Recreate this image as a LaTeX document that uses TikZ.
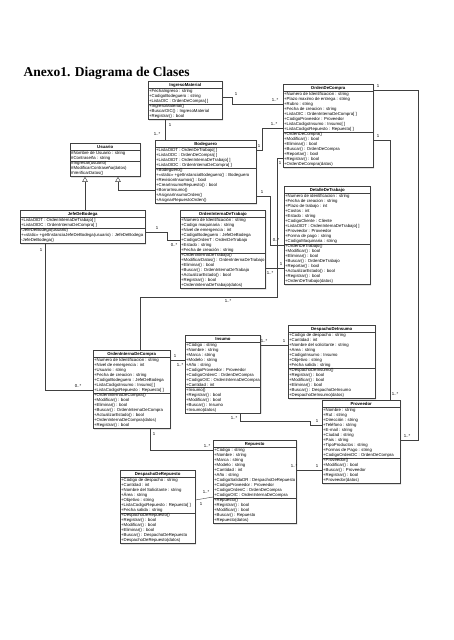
\documentclass[tikz,border=0pt]{standalone}
\usepackage{fontspec}
\setmainfont{Liberation Sans}
\newfontfamily\titlefont{Liberation Serif}
\usetikzlibrary{shapes.multipart,arrows.meta,shadows}

\begin{document}
\begin{tikzpicture}[x=1pt,y=-1pt,
  clase/.style={draw=black!75, line width=0.4pt, fill=white, rectangle split, rectangle split parts=3,
    rectangle split part align={center,left,left}, align=left, anchor=north west,
    drop shadow={shadow xshift=0.9pt, shadow yshift=-0.9pt, fill=black!35},
    inner xsep=1pt, inner ysep=0.7pt, font=\fontsize{4.3}{5}\selectfont},
  asoc/.style={draw=black!75, line width=0.4pt},
  hereda/.style={asoc, -{Triangle[open,length=5pt,width=5.5pt]}},
  mult/.style={font=\fontsize{4.3}{5}\selectfont, inner sep=0.3pt}]
  \fill[white] (0,0) rectangle (453,640);
  \node[anchor=base west, font=\titlefont\bfseries\fontsize{13.5}{15}\selectfont] (titulo) at (20,76) {Anexo1. Diagrama de Clases};

  % IngresoMaterial
  \node[clase, minimum width=74pt] (im) at (148,81) {\textbf{IngresoMaterial}\rule[-1pt]{0pt}{5pt}
    \nodepart{second}+FechaIngreso : string\\+CodigoBodeguero : string\\+ListaOIC : OrdenDeCompra[ ]
    \nodepart{third}+IngresoMaterial()\\+BuscarOIC() : IngresoMaterial\\+Registrar() : bool};

  % OrdenDeCompra
  \node[clase, minimum width=90pt] (odc) at (283,84) {\textbf{OrdenDeCompra}\rule[-1pt]{0pt}{5pt}
    \nodepart{second}+Numero de Identificacion : string\\+Plazo maximo de entrega : string\\+Rubro : string\\
    +Fecha de creacion : string\\+ListaOIC : OrdenInternaDeCompra[ ]\\+CodigoProveedor : Proveedor\\
    +ListaCodigoInsumo : Insumo[ ]\\+ListaCodigoRepuesto : Repuesto[ ]
    \nodepart{third}+OrdenDeCompra()\\+Modificar() : bool\\+Eliminar() : bool\\+Buscar() : OrdenDeCompra\\
    +Reportar() : bool\\+Registrar() : bool\\+OrdenDeCompra(datos)};

  % Usuario
  \node[clase, minimum width=70pt] (usu) at (70,143) {\textbf{Usuario}\rule[-1pt]{0pt}{5pt}
    \nodepart{second}\#Nombre de Usuario : string\\\#Contraseña : string
    \nodepart{third}\#Ingresar(usuario)\\\#ModificarContraseña(datos)\\\#VerificarDatos()};

  % Bodeguero
  \node[clase, minimum width=101pt] (bod) at (155,140) {\textbf{Bodeguero}\rule[-1pt]{0pt}{5pt}
    \nodepart{second}+ListaOIDT : OrdenDeTrabajo[ ]\\+ListaODC : OrdenDeCompra[ ]\\
    +ListaOIDT : OrdenInternaDeTrabajo[ ]\\+ListaOIDC : OrdenInternaDeCompra[ ]
    \nodepart{third}+Bodeguero()\\+<<static>> +getInstanciaBodeguero() : Bodeguero\\+RevisionInsumos() : bool\\
    +CrearInsumoRepuesto() : bool\\+BorrarInsumo()\\+AsignarInsumoOrden()\\+AsignarRepuestoOrden()};

  % JefeDeBodega
  \node[clase, minimum width=125pt] (jdb) at (20,210) {\textbf{JefeDeBodega}\rule[-1pt]{0pt}{5pt}
    \nodepart{second}+ListaOIDT : OrdenInternaDeTrabajo[ ]\\+ListaOIDC : OrdenInternaDeCompra[ ]
    \nodepart{third}-JefeDeBodega(usuario)\\+<<static>> +getInstanciaJefeDeBodega(usuario) : JefeDeBodega\\-JefeDeBodega()};

  % DetalleDeTrabajo
  \node[clase, minimum width=86pt] (ddt) at (284,186) {\textbf{DetalleDeTrabajo}\rule[-1pt]{0pt}{5pt}
    \nodepart{second}+Numero de identificacion : string\\+Fecha de creacion : string\\+Plazo de trabajo : int\\
    +Costos : int\\+Estado : string\\+CodigoCliente : Cliente\\+ListaOIDT : OrdenInternaDeTrabajo[ ]\\
    +Proveedor : Proveedor\\+Forma de pago : string\\+CodigoMaquinaria : string
    \nodepart{third}+OrdenDeTrabajo()\\+Modificar() : bool\\+Eliminar() : bool\\+Buscar() : OrdenDeTrabajo\\
    +Reportar() : bool\\+ActualizarEstado() : bool\\+Registrar() : bool\\+OrdenDeTrabajo(datos)};

  % OrdenInternaDeTrabajo
  \node[clase, minimum width=84pt] (oit) at (180,210) {\textbf{OrdenInternaDeTrabajo}\rule[-1pt]{0pt}{5pt}
    \nodepart{second}+Número de Identificación : string\\+Codigo maquinaria : string\\+Nivel de emergencia : int\\
    +CodigoBodeguero : JefeDeBodega\\+CodigoOrdenT : OrdenDeTrabajo\\+Estado : string\\+Fecha de creación : string
    \nodepart{third}+OrdenInternaDeTrabajo()\\+ModificarDatos() : OrdenInternaDeTrabajo\\+Eliminar() : bool\\
    +Buscar() : OrdenInternaDeTrabajo\\+ActualizarEstado() : bool\\+Registrar() : bool\\+OrdenInternaDeTrabajo(datos)};

  % Insumo
  \node[clase, minimum width=72pt] (ins) at (185,335) {\textbf{Insumo}\rule[-1pt]{0pt}{5pt}
    \nodepart{second}+Código : string\\+Nombre : string\\+Marca : string\\+Modelo : string\\+Año : string\\
    +CodigoProveedor : Proveedor\\+CodigoOrdenC : OrdenDeCompra\\+CodigoOIC : OrdenInternaDeCompra\\+Cantidad : int
    \nodepart{third}+Insumo()\\+Registrar() : bool\\+Modificar() : bool\\+Buscar() : Insumo\\+Insumo(datos)};

  % DespachoDeInsumo
  \node[clase, minimum width=87pt] (dins) at (288,325) {\textbf{DespachoDeInsumo}\rule[-1pt]{0pt}{5pt}
    \nodepart{second}+Codigo de despacho : string\\+Cantidad : int\\+Nombre del solicitante : string\\+Area : string\\
    +CodigoInsumo : Insumo\\+Objetivo : string\\+Fecha salida : string
    \nodepart{third}+DespachoDeInsumo()\\+Registrar() : bool\\+Modificar() : bool\\+Eliminar() : bool\\
    +Buscar() : DespachoDeInsumo\\+DespachoDeInsumo(datos)};

  % OrdenInternaDeCompra
  \node[clase, minimum width=77pt] (oic) at (93,350) {\textbf{OrdenInternaDeCompra}\rule[-1pt]{0pt}{5pt}
    \nodepart{second}+Numero de Identificacion : string\\+Nivel de emergencia : int\\+Usuario : string\\
    +Fecha de creacion : string\\+CodigoBodeguero : JefeDeBodega\\+ListaCodigoInsumo : Insumo[ ]\\
    +ListaCodigoRepuesto : Repuesto[ ]
    \nodepart{third}+OrdenInternaDeCompra()\\+Modificar() : bool\\+Eliminar() : bool\\+Buscar() : OrdenInternaDeCompra\\
    +ActualizarEstado() : bool\\+OrdenInternaDeCompra(datos)\\+Registrar() : bool};

  % Proveedor
  \node[clase, minimum width=78pt] (prov) at (322,400) {\textbf{Proveedor}\rule[-1pt]{0pt}{5pt}
    \nodepart{second}+Nombre : string\\+Rut : string\\+Dirección : string\\+Teléfono : string\\+E-mail : string\\
    +Ciudad : string\\+Pais : string\\+TipoProductos : string\\+Formas de Pago : string\\+CodigoOrdenDC : OrdenDeCompra
    \nodepart{third}+Proveedor()\\+Modificar() : bool\\+Buscar() : Proveedor\\+Registrar() : bool\\+Proveedor(datos)};

  % Repuesto
  \node[clase, minimum width=75pt] (rep) at (213,440) {\textbf{Repuesto}\rule[-1pt]{0pt}{5pt}
    \nodepart{second}+Código : string\\+Nombre : string\\+Marca : string\\+Modelo : string\\+Cantidad : int\\
    +Año : string\\+CodigoSalidaDR : DespachoDeRepuesto\\+CodigoProveedor : Proveedor\\
    +CodigoOrdenC : OrdenDeCompra\\+CodigoOIC : OrdenInternaDeCompra
    \nodepart{third}+Repuesto()\\+Registrar() : bool\\+Modificar() : bool\\+Buscar() : Repuesto\\+Repuesto(datos)};

  % DespachoDeRepuesto
  \node[clase, minimum width=75pt] (drep) at (120,470) {\textbf{DespachoDeRepuesto}\rule[-1pt]{0pt}{5pt}
    \nodepart{second}+Código de despacho : string\\+Cantidad : int\\+Nombre del Solicitante : string\\+Área : string\\
    +Objetivo : string\\+ListaCodigoRepuesto : Repuesto[ ]\\+Fecha salida : string
    \nodepart{third}+DespachoDeRepuesto()\\+Registrar() : bool\\+Modificar() : bool\\+Eliminar() : bool\\
    +Buscar() : DespachoDeRepuesto\\+DespachoDeRepuesto(datos)};

  % herencia
  \draw[hereda] (jdb.north -| 85,0) -- (usu.south -| 85,0);
  \draw[hereda] (bod.west |- 0,190) -| (usu.south -| 118,0);

  % asociaciones
  \draw[asoc] (im.east |- 0,97) -| (232,104) -- (odc.west |- 0,104);
  \node[mult] (m1a) at (236,94) {1};
  \node[mult] (m1b) at (275,100) {1..*};
  \draw[asoc] (im.south -| 165,0) -- (bod.north -| 165,0);
  \node[mult] (m2a) at (157,134) {1..*};
  \node[mult] (m2b) at (170,125) {1};
  \draw[asoc] (bod.east |- 0,150) -| (262,128) -- (odc.west |- 0,128);
  \node[mult] (m3a) at (259,146) {1};
  \node[mult] (m3b) at (274,124) {1..*};
  \draw[asoc] (bod.east |- 0,196) -| (270,245) -- (ddt.west |- 0,245);
  \node[mult] (m4a) at (262,192) {1};
  \node[mult] (m4b) at (276,240) {0..*};
  \draw[asoc] (oit.east |- 0,268) -- (ddt.west |- 0,268);
  \node[mult] (m5a) at (270,273) {1..*};
  \node[mult] (m5b) at (281,264) {1};
  \draw[asoc] (jdb.east |- 0,232) -| (167,240) -- (oit.west |- 0,240);
  \node[mult] (m6a) at (157,228) {1};
  \node[mult] (m6b) at (174,245) {0..*};
  \draw[asoc] (odc.west |- 0,158) -| (277,297) -| (oic.north -| 140,0);
  \node[mult] (m7a) at (280,163) {1};
  \node[mult] (m7b) at (228,301) {1..*};
  \draw[asoc] (jdb.south -| 45,0) |- (oic.west |- 0,390);
  \node[mult] (m8a) at (41,250) {1};
  \node[mult] (m8b) at (78,386) {0..*};
  \draw[asoc] (oic.east |- 0,360) -- (ins.west |- 0,360);
  \node[mult] (m9a) at (175,356) {1};
  \node[mult] (m9b) at (180,365) {1..*};
  \draw[asoc] (ins.east |- 0,345) -- (dins.west |- 0,345);
  \node[mult] (m10a) at (264,341) {1..*};
  \node[mult] (m10b) at (284,341) {1};
  \draw[asoc] (ins.south -| 240,0) |- (310,421) |- (prov.west |- 0,425);
  \node[mult] (m11a) at (234,418) {1..*};
  \node[mult] (m11b) at (317,421) {1};
  \draw[asoc] (rep.east |- 0,470) -- (prov.west |- 0,470);
  \node[mult] (m12a) at (294,466) {1..*};
  \node[mult] (m12b) at (317,466) {1};
  \draw[asoc] (odc.east |- 0,90) -| (418,440) -- (prov.east |- 0,440);
  \node[mult] (m13a) at (378,86) {1};
  \node[mult] (m13b) at (407,436) {1..*};
  \draw[asoc] (odc.east |- 0,140) -| (prov.north -| 390,0);
  \node[mult] (m14a) at (378,136) {1};
  \node[mult] (m14b) at (395,394) {1..*};
  \draw[asoc] (oic.south -| 150,0) |- (rep.west |- 0,450);
  \node[mult] (m15a) at (154,434) {1};
  \node[mult] (m15b) at (207,446) {1..*};
  \draw[asoc] (drep.east |- 0,500) -- (rep.west |- 0,497);
  \node[mult] (m16a) at (201,504) {1};
  \node[mult] (m16b) at (206,492) {1..*};
\end{tikzpicture}
\end{document}
